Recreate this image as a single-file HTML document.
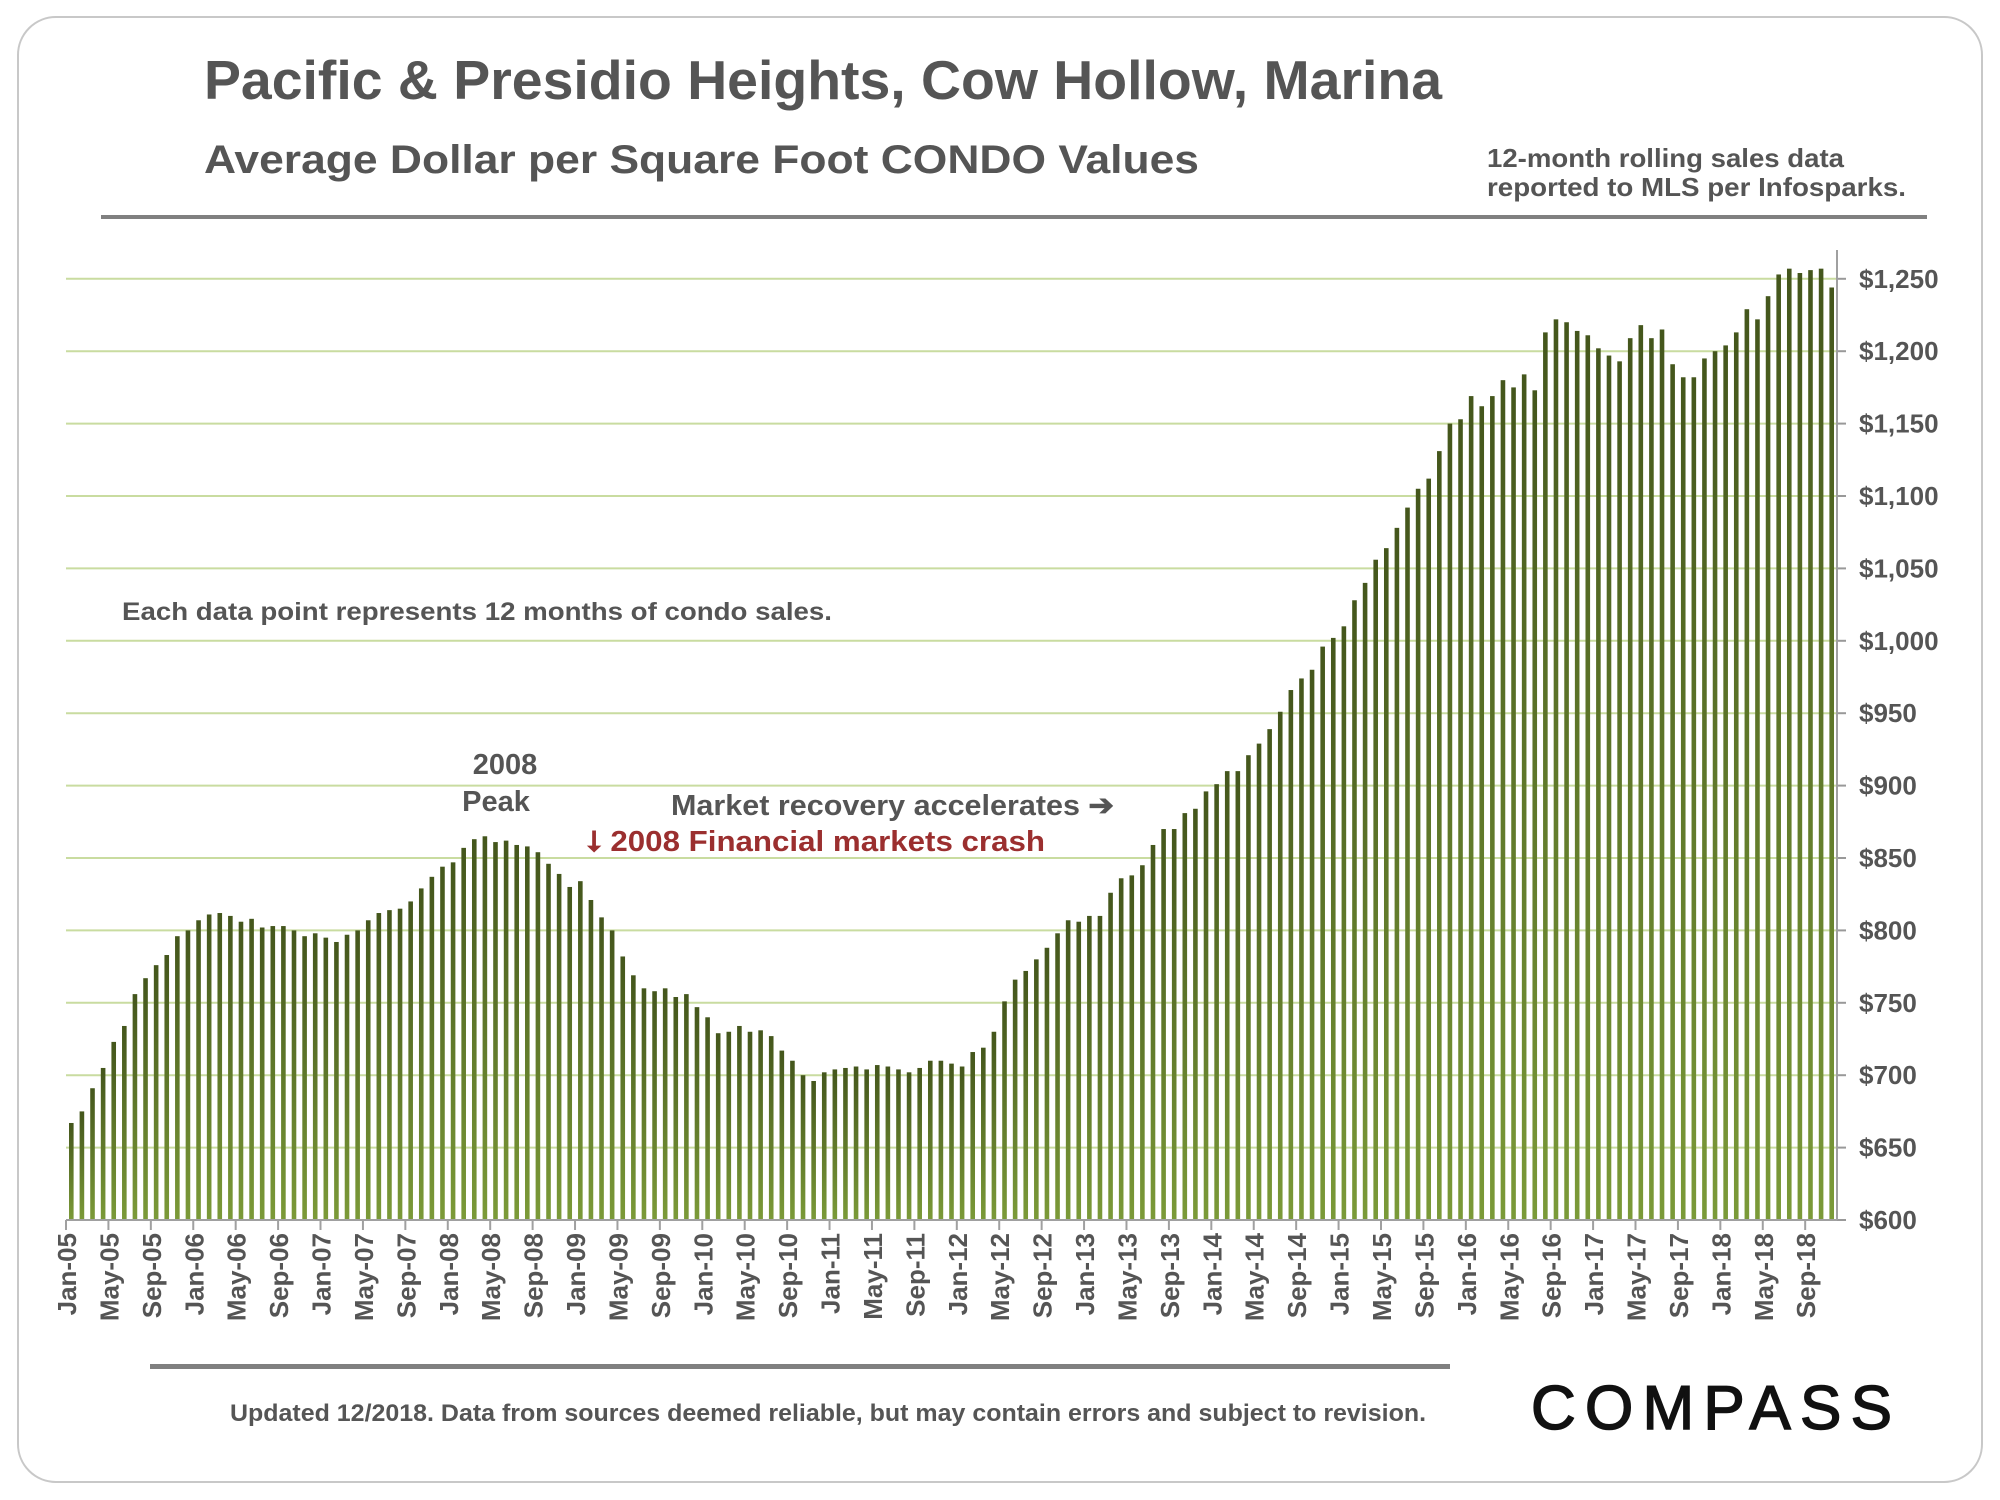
<!DOCTYPE html>
<html><head><meta charset="utf-8"><style>
html,body{margin:0;padding:0;background:#fff;}
svg{display:block;font-family:"Liberation Sans",Arial,sans-serif;}
</style></head><body>
<svg id="chart" width="2000" height="1500" viewBox="0 0 2000 1500">
<defs>
<linearGradient id="barGrad" x1="0" y1="0" x2="0" y2="1">
<stop offset="0" stop-color="#44561c"/><stop offset="1" stop-color="#7b9a38"/>
</linearGradient>
</defs>
<rect x="18" y="17" width="1964" height="1465" rx="38" ry="38" fill="#fff" stroke="#c8c8c8" stroke-width="2"/>
<text x="204" y="99" font-size="55" font-weight="bold" fill="#555" textLength="1238" lengthAdjust="spacingAndGlyphs">Pacific &amp; Presidio Heights, Cow Hollow, Marina</text>
<text x="204" y="173" font-size="40" font-weight="bold" fill="#555" textLength="995" lengthAdjust="spacingAndGlyphs">Average Dollar per Square Foot CONDO Values</text>
<text x="1487" y="167" font-size="26" font-weight="bold" fill="#555" textLength="357" lengthAdjust="spacingAndGlyphs">12-month rolling sales data</text>
<text x="1487" y="196" font-size="26" font-weight="bold" fill="#555" textLength="419" lengthAdjust="spacingAndGlyphs">reported to MLS per Infosparks.</text>
<rect x="101" y="215" width="1826" height="4" fill="#808080"/>
<g id="grid"></g>
<g id="bars"></g>
<g id="axes"></g>
<text x="122" y="620" font-size="25" font-weight="bold" fill="#555" textLength="710" lengthAdjust="spacingAndGlyphs">Each data point represents 12 months of condo sales.</text>
<text x="505" y="774" font-size="29" font-weight="bold" fill="#555" text-anchor="middle">2008</text>
<text x="496" y="811" font-size="29" font-weight="bold" fill="#555" text-anchor="middle">Peak</text>
<text x="671" y="815" font-size="29" font-weight="bold" fill="#555" textLength="443" lengthAdjust="spacingAndGlyphs">Market recovery accelerates ➔</text>
<text x="587" y="851" font-size="29" font-weight="bold" fill="#9b2f2f" textLength="458" lengthAdjust="spacingAndGlyphs">⭣ 2008 Financial markets crash</text>
<rect x="150" y="1364" width="1300" height="5" fill="#808080"/>
<text x="828" y="1421" font-size="24" font-weight="bold" fill="#555" text-anchor="middle" textLength="1196" lengthAdjust="spacingAndGlyphs">Updated 12/2018. Data from sources deemed reliable, but may contain errors and subject to revision.</text>
<text x="1531" y="1429" font-size="62" fill="#111" stroke="#111" stroke-width="1.5" textLength="361" lengthAdjust="spacing">COMPASS</text>
</svg>
<script>
const values = [667,675,691,705,723,734,756,767,776,783,796,800,807,811,812,810,806,808,802,803,803,800,796,798,795,792,797,800,807,812,814,815,820,829,837,844,847,857,863,865,861,862,859,858,854,846,839,830,834,821,809,800,782,769,760,758,760,754,756,747,740,729,730,734,730,731,727,717,710,700,696,702,704,705,706,704,707,706,704,702,705,710,710,708,706,716,719,730,751,766,772,780,788,798,807,806,810,810,826,836,838,845,859,870,870,881,884,896,901,910,910,921,929,939,951,966,974,980,996,1002,1010,1028,1040,1056,1064,1078,1092,1105,1112,1131,1150,1153,1169,1162,1169,1180,1175,1184,1173,1213,1222,1220,1214,1211,1202,1197,1193,1209,1218,1209,1215,1191,1182,1182,1195,1200,1204,1213,1229,1222,1238,1253,1257,1254,1256,1257,1244];
const months = ["Jan","Feb","Mar","Apr","May","Jun","Jul","Aug","Sep","Oct","Nov","Dec"];
const startYear = 5;
const yTicks = [600,650,700,750,800,850,900,950,1000,1050,1100,1150,1200,1250];
const yTickLabels = ["$600","$650","$700","$750","$800","$850","$900","$950","$1,000","$1,050","$1,100","$1,150","$1,200","$1,250"];

const NS="http://www.w3.org/2000/svg";
const X0=66, X1=1837, Y0=1220, PPU=1.448;
const step=(X1-X0)/values.length;
function xAt(i){return X0+step*i;}
function yAt(v){return Y0-(v-600)*PPU;}
function mk(tag,attrs){const e=document.createElementNS(NS,tag);for(const k in attrs)e.setAttribute(k,attrs[k]);return e;}
const grid=document.getElementById('grid'), bars=document.getElementById('bars'), axes=document.getElementById('axes');
yTicks.forEach((t,i)=>{
  if(t>600){
    const l=mk('line',{x1:X0,x2:X1,y1:yAt(t),y2:yAt(t),stroke:'#c9dca0','stroke-width':2});
    
    
    grid.appendChild(l);
  }
  const tk=mk('line',{x1:X1,x2:X1+9,y1:yAt(t),y2:yAt(t),stroke:'#999','stroke-width':2});
  
  
  axes.appendChild(tk);
  const tx=mk('text',{x:X1+22,y:yAt(t)+9,'font-size':26,'font-weight':'bold',fill:'#555'});
  tx.textContent=yTickLabels[i];
  
  
  axes.appendChild(tx);
});
values.forEach((v,i)=>{
  const w=4.6;
  const r=mk('rect',{x:xAt(i)+step/2-w/2,y:yAt(v),width:w,height:Y0-yAt(v),fill:'url(#barGrad)'});
  
  
  bars.appendChild(r);
});
const base=mk('line',{x1:X0,x2:X1,y1:Y0,y2:Y0,stroke:'#a0a0a0','stroke-width':2});


axes.appendChild(base);
const yl=mk('line',{x1:X1,x2:X1,y1:250,y2:Y0,stroke:'#a0a0a0','stroke-width':2});


axes.appendChild(yl);
for(let i=0;i<values.length;i+=4){
  const x=xAt(i);
  const tk=mk('line',{x1:x,x2:x,y1:Y0,y2:Y0+10,stroke:'#a0a0a0','stroke-width':2});
  
  
  axes.appendChild(tk);
  const yr=startYear+Math.floor(i/12);
  const lab=months[i%12]+'-'+(yr<10?'0'+yr:yr);
  const tx=mk('text',{x:0,y:0,'font-size':26,'font-weight':'bold',fill:'#555','text-anchor':'end',transform:'translate('+(x+10)+','+(Y0+13)+') rotate(-90)'});
  tx.textContent=lab;
  
  
  axes.appendChild(tx);
}
</script>
</body></html>
